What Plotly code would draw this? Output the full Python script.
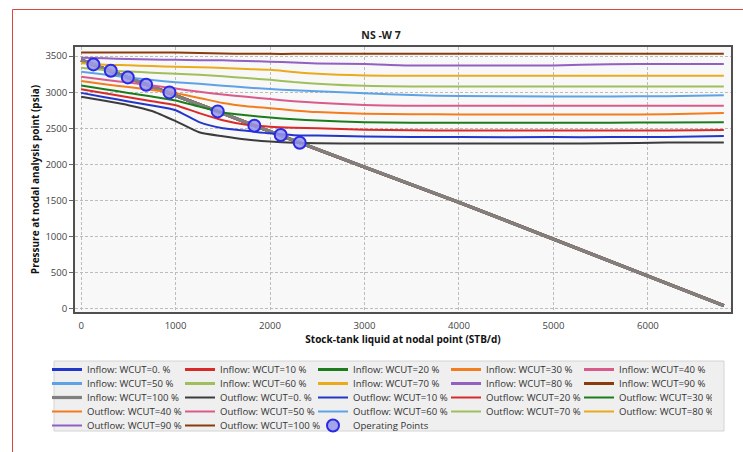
import plotly.graph_objects as go

# Water-cut cases shown in the nodal analysis
wcut_labels = ["0.", "10", "20", "30", "40", "50", "60", "70", "80", "90", "100"]

inflow_colors = ["#2236c9", "#d92a2a", "#1c7c1c", "#f27d1e", "#d95b8b", "#5ea2e6",
                 "#a0be5c", "#e9ab1c", "#9160c2", "#8a3b0c", "#808080"]
outflow_colors = ["#3c3c3c", "#2236c9", "#d92a2a", "#1c7c1c", "#f27d1e", "#d95b8b",
                  "#5ea2e6", "#a0be5c", "#e9ab1c", "#9160c2", "#8a3b0c"]

# Inflow (IPR) curve: liquid rate (STB/d) vs pressure (psia)
inflow_rate = [0, 494, 935, 1446, 1834, 2314, 3000, 4000, 5000, 6000, 6804]
inflow_pressure = [3445, 3204, 2993, 2734, 2538, 2300, 1964, 1476, 964, 456, 46]

# Outflow (tubing) curves, one pressure list per water cut on a shared rate grid
outflow_rate = [0, 250, 500, 750, 1000, 1250, 1500, 1750, 2000, 2250, 2500,
                3000, 3500, 4000, 5000, 5600, 6200, 6804]
outflow_p_wc0 = [2938, 2880, 2820, 2740, 2600, 2445, 2390, 2345, 2317, 2300, 2292,
                 2290, 2290, 2290, 2290, 2292, 2302, 2303]
outflow_p_wc10 = [2990, 2930, 2872, 2815, 2750, 2585, 2500, 2465, 2430, 2405, 2400,
                  2388, 2380, 2378, 2378, 2378, 2380, 2392]
outflow_p_wc20 = [3040, 2985, 2930, 2875, 2820, 2710, 2612, 2550, 2522, 2508, 2500,
                  2480, 2472, 2470, 2468, 2468, 2470, 2476]
outflow_p_wc30 = [3091, 3040, 2990, 2940, 2885, 2800, 2718, 2680, 2650, 2625, 2607,
                  2585, 2578, 2576, 2576, 2578, 2580, 2582]
outflow_p_wc40 = [3153, 3110, 3070, 3030, 2985, 2920, 2850, 2805, 2778, 2748, 2725,
                  2702, 2695, 2692, 2691, 2691, 2694, 2710]
outflow_p_wc50 = [3213, 3172, 3133, 3092, 3050, 3005, 2967, 2935, 2904, 2875, 2853,
                  2822, 2812, 2812, 2812, 2812, 2812, 2812]
outflow_p_wc60 = [3282, 3245, 3203, 3168, 3138, 3115, 3090, 3065, 3043, 3025, 3012,
                  2985, 2960, 2946, 2940, 2940, 2945, 2957]
outflow_p_wc70 = [3338, 3305, 3285, 3270, 3255, 3240, 3220, 3195, 3172, 3140, 3118,
                  3088, 3080, 3079, 3079, 3079, 3079, 3079]
outflow_p_wc80 = [3400, 3380, 3372, 3362, 3352, 3344, 3336, 3322, 3310, 3280, 3255,
                  3232, 3227, 3227, 3227, 3227, 3227, 3227]
outflow_p_wc90 = [3475, 3468, 3460, 3453, 3447, 3443, 3440, 3432, 3422, 3410, 3398,
                  3390, 3370, 3370, 3370, 3388, 3390, 3390]
outflow_p_wc100 = [3550, 3550, 3550, 3550, 3549, 3542, 3534, 3532, 3530, 3530, 3530,
                   3530, 3530, 3530, 3530, 3531, 3532, 3532]

outflow_pressures = [outflow_p_wc0, outflow_p_wc10, outflow_p_wc20, outflow_p_wc30,
                     outflow_p_wc40, outflow_p_wc50, outflow_p_wc60, outflow_p_wc70,
                     outflow_p_wc80, outflow_p_wc90, outflow_p_wc100]

# Operating points (inflow/outflow intersections)
op_rate = [130, 314, 494, 688, 935, 1446, 1834, 2113, 2314]
op_pressure = [3384, 3297, 3204, 3103, 2997, 2734, 2535, 2407, 2300]

# Plot-area geometry (px) used to place legend rows and frame shapes
W, H = 743, 452
L, R, T, B = 75, 731, 47, 312
PW, PH = R - L, B - T


def px_x(px):
    return (px - L) / PW


def px_y(py):
    return (B - py) / PH


legend_ids = ["legend", "legend2", "legend3", "legend4", "legend5"]
FONT = "Open Sans, Noto Sans, sans-serif"

fig = go.Figure()
k = 0
for i, wc in enumerate(wcut_labels):
    fig.add_trace(go.Scatter(
        x=inflow_rate, y=inflow_pressure, mode="lines",
        name=f"Inflow: WCUT={wc} %",
        line=dict(color=inflow_colors[i], width=3.2 if i == 10 else 3),
        legend=legend_ids[k // 5],
    ))
    k += 1

for i, wc in enumerate(wcut_labels):
    fig.add_trace(go.Scatter(
        x=outflow_rate, y=outflow_pressures[i], mode="lines",
        name=f"Outflow: WCUT={wc} %",
        line=dict(color=outflow_colors[i], width=2, shape="spline", smoothing=0.6),
        legend=legend_ids[k // 5],
    ))
    k += 1

fig.add_trace(go.Scatter(
    x=op_rate, y=op_pressure, mode="markers", name="Operating Points",
    marker=dict(size=12, color="rgba(150,150,235,0.85)",
                line=dict(color="#2a2ae6", width=2)),
    legend=legend_ids[k // 5],
))

# One horizontal legend per row, stacked tightly
row_centers = [369.5, 383.5, 397.5, 411.5, 425.5]
legend_layout = {}
for j, lid in enumerate(legend_ids):
    legend_layout[lid] = dict(
        orientation="h", x=px_x(47), xanchor="left",
        y=px_y(row_centers[j] - 14.5), yanchor="top",
        entrywidth=88, entrywidthmode="pixels",
        bgcolor="rgba(0,0,0,0)", borderwidth=0,
        font=dict(family=FONT, size=9.6, color="#333333"),
        traceorder="normal",
    )

axis_common = dict(
    showline=True, mirror=True, linecolor="#505050", linewidth=1.5,
    showgrid=True, gridcolor="#bcbcbc", griddash="3px,2px", gridwidth=1,
    zeroline=False,
    tickfont=dict(family=FONT, size=9.6, color="#444444"),
)

fig.update_layout(
    width=W, height=H,
    margin=dict(l=L, r=W - R, t=T, b=H - B, autoexpand=False),
    paper_bgcolor="white", plot_bgcolor="#f8f8f8",
    font=dict(family=FONT, size=9.6, color="#333333"),
    title=dict(text="NS -W 7", x=381 / W, xref="container", xanchor="center",
               y=1 - 35 / H, yref="container", yanchor="middle",
               font=dict(family=FONT, size=10.5, color="#222222", weight="bold")),
    xaxis=dict(range=[-65, 6880], dtick=1000, tick0=0, ticks="", ticklabelstandoff=4,
               title=dict(text="Stock-tank liquid at nodal point (STB/d)", standoff=4,
                          font=dict(family=FONT, size=10, color="#111111", weight="bold")),
               **axis_common),
    yaxis=dict(range=[-42, 3625], dtick=500, tick0=0, ticks="outside", ticklen=4,
               tickcolor="#666666",
               title=dict(text="Pressure at nodal analysis point (psia)", standoff=4,
                          font=dict(family=FONT, size=10, color="#111111", weight="bold")),
               **axis_common),
    **legend_layout,
)

# Legend box and the outer red frame
fig.add_shape(type="rect", xref="paper", yref="paper", layer="below",
              x0=px_x(54), x1=px_x(724), y0=px_y(431), y1=px_y(361),
              fillcolor="#efefef", line=dict(color="#d4d4d4", width=1))
fig.add_shape(type="line", xref="paper", yref="paper",
              x0=px_x(12.5), x1=px_x(12.5), y0=px_y(9.5), y1=px_y(452),
              line=dict(color="#d9473f", width=1))
fig.add_shape(type="line", xref="paper", yref="paper",
              x0=px_x(12.5), x1=px_x(743), y0=px_y(9.5), y1=px_y(9.5),
              line=dict(color="#d9473f", width=1))

fig.write_html("out.html")
